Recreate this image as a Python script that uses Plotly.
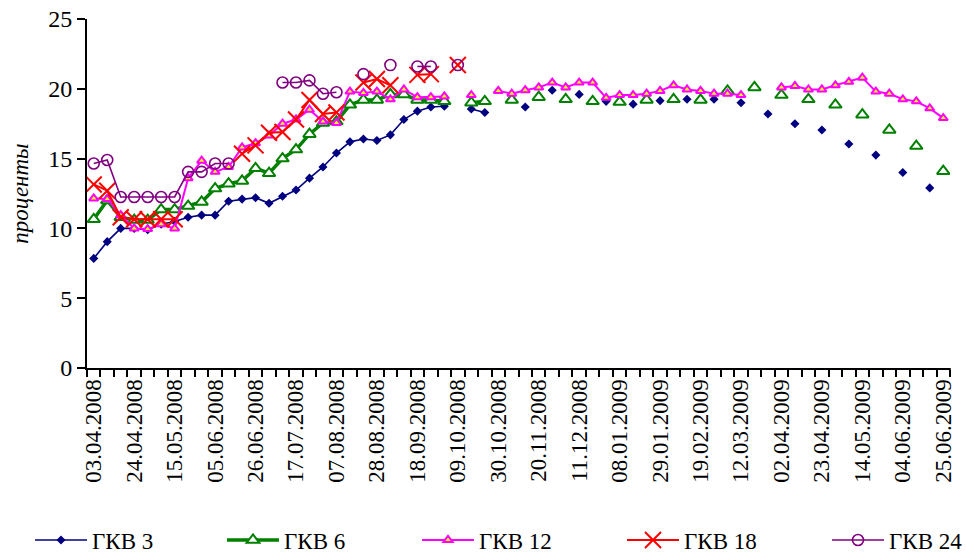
import plotly.graph_objects as go

dates = [
    "03.04.2008", "10.04.2008", "17.04.2008", "24.04.2008", "01.05.2008", "08.05.2008",
    "15.05.2008", "22.05.2008", "29.05.2008", "05.06.2008", "12.06.2008", "19.06.2008",
    "26.06.2008", "03.07.2008", "10.07.2008", "17.07.2008", "24.07.2008", "31.07.2008",
    "07.08.2008", "14.08.2008", "21.08.2008", "28.08.2008", "04.09.2008", "11.09.2008",
    "18.09.2008", "25.09.2008", "02.10.2008", "09.10.2008", "16.10.2008", "23.10.2008",
    "30.10.2008", "06.11.2008", "13.11.2008", "20.11.2008", "27.11.2008", "04.12.2008",
    "11.12.2008", "18.12.2008", "25.12.2008", "08.01.2009", "15.01.2009", "22.01.2009",
    "29.01.2009", "05.02.2009", "12.02.2009", "19.02.2009", "26.02.2009", "05.03.2009",
    "12.03.2009", "19.03.2009", "26.03.2009", "02.04.2009", "09.04.2009", "16.04.2009",
    "23.04.2009", "30.04.2009", "07.05.2009", "14.05.2009", "21.05.2009", "28.05.2009",
    "04.06.2009", "11.06.2009", "18.06.2009", "25.06.2009",
]

tick_labels = [
    "03.04.2008", "24.04.2008", "15.05.2008", "05.06.2008", "26.06.2008", "17.07.2008",
    "07.08.2008", "28.08.2008", "18.09.2008", "09.10.2008", "30.10.2008", "20.11.2008",
    "11.12.2008", "08.01.2009", "29.01.2009", "19.02.2009", "12.03.2009", "02.04.2009",
    "23.04.2009", "14.05.2009", "04.06.2009", "25.06.2009",
]

N = None
gkv3 = [7.85, 9.05, 10.0, 10.0, 9.9, 10.3, 10.5, 10.8, 10.95, 10.95, 11.95, 12.1,
        12.2, 11.8, 12.3, 12.75, 13.6, 14.4, 15.4, 16.2, 16.4, 16.3, 16.7, 17.8,
        18.4, 18.7, 18.75, N, 18.55, 18.3, N, N, 18.7, N, 19.9, N,
        19.6, N, 19.1, N, 18.9, N, 19.15, N, 19.25, N, 19.25, N,
        19.0, N, 18.2, N, 17.5, N, 17.05, N, 16.05, N, 15.25, N,
        14.0, N, 12.9, N]

gkv6 = [10.65, 12.0, 10.8, 10.6, 10.6, 11.35, 11.35, 11.6, 11.9, 12.85, 13.2, 13.4,
        14.3, 13.95, 15.0, 15.65, 16.75, 17.55, 17.65, 18.85, 19.2, 19.2, 19.6, 19.6,
        19.2, 19.2, 19.1, N, 19.0, 19.1, N, 19.2, N, 19.4, N, 19.25,
        N, 19.1, N, 19.05, N, 19.2, N, 19.25, N, 19.2, N, 19.85,
        N, 20.1, N, 19.55, N, 19.25, N, 18.85, N, 18.15, N, 17.05,
        N, 15.9, N, 14.1]

gkv12 = [12.15, 12.1, 10.95, 10.0, 9.95, 10.3, 10.0, 13.6, 14.85, 14.05, 14.4, 15.8,
         16.1, 16.65, 17.5, 17.8, 18.5, 17.65, 17.55, 19.8, 19.7, 19.8, 19.25, 19.95,
         19.4, 19.4, 19.45, N, 19.55, N, 19.85, 19.65, 19.9, 20.1, 20.45, 20.1,
         20.45, 20.45, 19.35, 19.55, 19.55, 19.65, 19.85, 20.25, 19.95, 19.85, 19.65, 19.65,
         19.55, N, N, 20.1, 20.2, 19.95, 19.95, 20.25, 20.5, 20.8, 19.8, 19.65,
         19.25, 19.1, 18.6, 17.9]

gkv18 = [13.15, 12.7, 10.8, 10.65, 10.65, 10.65, 10.65, N, N, N, N, 15.35,
         15.95, 16.85, 16.9, 17.8, 19.2, 18.2, 18.3, N, 20.45, 20.7, 20.25, N,
         21.0, 21.05, N, 21.7] + [N] * 36

gkv24 = [14.65, 14.9, 12.25, 12.25, 12.25, 12.25, 12.25, 14.05, 14.05, 14.65, 14.65, N,
         N, N, 20.45, 20.45, 20.6, 19.65, 19.75, N, 21.05, N, 21.7, N,
         21.6, 21.6, N, 21.7] + [N] * 36

FONT = "Liberation Serif"
W, H = 966, 554
ML, MT = 87, 19
PW, PH = 863, 349
MR, MB = W - ML - PW, H - MT - PH

series = [
    ("ГКВ 3", gkv3, dict(color="#000080", width=1.6),
     dict(symbol="diamond", size=7, color="#000080")),
    ("ГКВ 6", gkv6, dict(color="#008000", width=3.5),
     dict(symbol="triangle-up", size=11, color="white", line=dict(color="#008000", width=2))),
    ("ГКВ 12", gkv12, dict(color="#FF00FF", width=2),
     dict(symbol="triangle-up", size=8, color="#FFFF00", line=dict(color="#FF00FF", width=2))),
    ("ГКВ 18", gkv18, dict(color="#FF0000", width=2),
     dict(symbol="x-thin-open", size=16, color="#FF0000", line=dict(color="#FF0000", width=2))),
    ("ГКВ 24", gkv24, dict(color="#800080", width=1.6),
     dict(symbol="circle-open", size=11, color="#800080", line=dict(color="#800080", width=1.6))),
]
legend_px = [36, 228, 423, 628, 833]
legend_cy = 540

fig = go.Figure()
legends = {}
for k, (name, vals, ln, mk) in enumerate(series):
    lname = "legend" if k == 0 else f"legend{k + 1}"
    fig.add_trace(go.Scatter(x=dates, y=vals, name=name, mode="lines+markers",
                             line=ln, marker=mk, legend=lname))
    legends[lname] = dict(
        orientation="h", x=(legend_px[k] - 6 - ML) / PW, xanchor="left",
        y=-(legend_cy - (MT + PH)) / PH, yanchor="middle", itemwidth=52,
        font=dict(family=FONT, size=23, color="black"),
        bgcolor="rgba(0,0,0,0)", borderwidth=0,
    )

ticktext = [d if d in tick_labels else "" for d in dates]

fig.update_layout(
    width=W, height=H,
    margin=dict(l=ML, r=MR, t=MT, b=MB, autoexpand=False),
    paper_bgcolor="white", plot_bgcolor="white",
    font=dict(family=FONT, size=23, color="black"),
    showlegend=True,
    xaxis=dict(
        type="category", categoryorder="array", categoryarray=dates,
        range=[-0.5, len(dates) - 0.5], automargin=False,
        tickmode="array", tickvals=dates, ticktext=ticktext,
        tickson="boundaries", tickangle=-90,
        ticks="outside", ticklen=7, tickwidth=1.5, tickcolor="black",
        showline=True, linecolor="black", linewidth=2,
        showgrid=False, zeroline=False,
        tickfont=dict(family=FONT, size=23, color="black"),
    ),
    yaxis=dict(
        range=[0, 25], tickmode="array", tickvals=[0, 5, 10, 15, 20, 25],
        automargin=False, ticklabeloverflow="allow",
        ticks="outside", ticklen=8, tickwidth=1.5, tickcolor="black",
        showline=True, linecolor="black", linewidth=2,
        showgrid=False, zeroline=False,
        tickfont=dict(family=FONT, size=24, color="black"),
        title=dict(text="<i>проценты</i>", standoff=13,
                   font=dict(family=FONT, size=23, color="black")),
    ),
    shapes=[dict(type="line", xref="paper", yref="paper", x0=1, x1=1,
                 y0=0, y1=-7 / PH, line=dict(color="black", width=1.5))],
    **legends,
)

fig.write_html("out.html",
               config={"displayModeBar": False},
               post_script="document.body.style.margin='0px';document.body.style.overflow='hidden';")
